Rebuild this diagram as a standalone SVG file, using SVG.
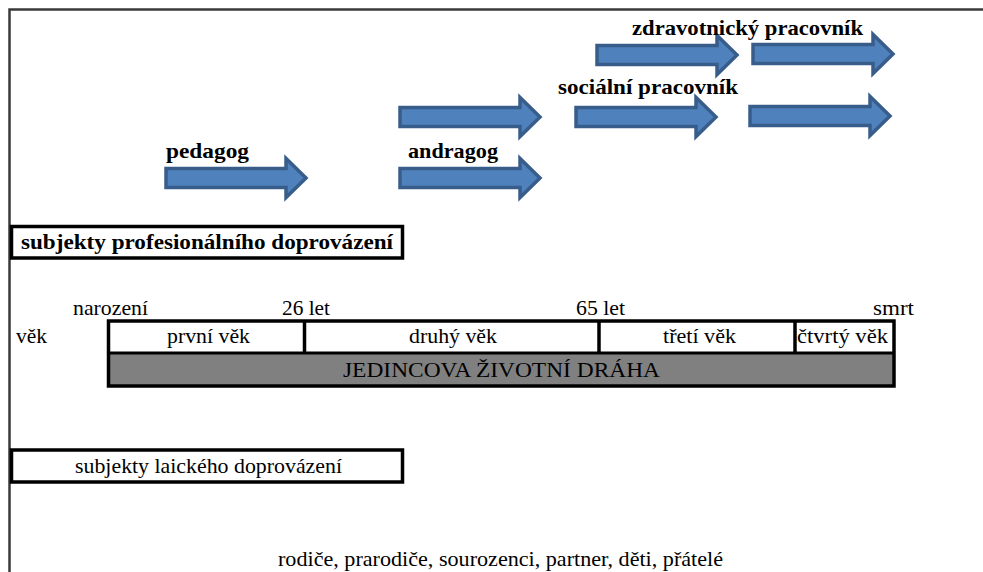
<svg xmlns="http://www.w3.org/2000/svg" xmlns:xlink="http://www.w3.org/1999/xlink" width="983" height="572" viewBox="0 0 983 572">
<style>
.b{font-weight:bold}
.box{fill:#fff;stroke:#000;stroke-width:3.5}
.arr{fill:#4F81BD;stroke:#385D8A;stroke-width:3.5;stroke-linejoin:miter}
</style>
<defs>
<path id="arr" class="arr" d="M0,-9.5 H120 V-19.5 L140,0 L120,19.5 V9.5 H0 Z"/>
</defs>
<rect width="983" height="572" fill="#fff"/>
<path d="M9.5,572 V9.5 H983" fill="none" stroke="#3a3a3a" stroke-width="2.5"/>

<g id="connectors">
<use xlink:href="#arr" x="166" y="178"/>
<use xlink:href="#arr" x="400" y="117"/>
<use xlink:href="#arr" x="400" y="178"/>
<use xlink:href="#arr" x="597" y="55"/>
<use xlink:href="#arr" x="753" y="54"/>
<use xlink:href="#arr" x="576" y="117"/>
<use xlink:href="#arr" x="750" y="116"/>
</g>

<g font-family="Liberation Serif, Times New Roman, Times, serif" font-size="22" fill="#000">
<g id="labels-prof">
<text class="b" x="632" y="35" textLength="231" lengthAdjust="spacingAndGlyphs">zdravotnický pracovník</text>
<text class="b" x="558" y="94" textLength="180" lengthAdjust="spacingAndGlyphs">sociální pracovník</text>
<text class="b" x="166" y="158" textLength="83" lengthAdjust="spacingAndGlyphs">pedagog</text>
<text class="b" x="408" y="158" textLength="90" lengthAdjust="spacingAndGlyphs">andragog</text>
</g>

<g id="node-prof">
<rect class="box" x="11.5" y="226.5" width="391" height="31.5"/>
<text class="b" x="21" y="249" textLength="372" lengthAdjust="spacingAndGlyphs">subjekty profesionálního doprovázení</text>
</g>

<g id="timeline-marks">
<text x="73" y="315" textLength="75" lengthAdjust="spacingAndGlyphs">narození</text>
<text x="282" y="315" textLength="48" lengthAdjust="spacingAndGlyphs">26 let</text>
<text x="576" y="315" textLength="49" lengthAdjust="spacingAndGlyphs">65 let</text>
<text x="873" y="315" textLength="41" lengthAdjust="spacingAndGlyphs">smrt</text>
<text x="16" y="343" textLength="31" lengthAdjust="spacingAndGlyphs">věk</text>
</g>

<g id="node-lifepath">
<rect x="108.5" y="353" width="785.5" height="33" fill="#808080"/>
<rect x="108.5" y="321" width="785.5" height="65" fill="none" stroke="#000" stroke-width="3.5"/>
<line x1="108.5" y1="353" x2="894" y2="353" stroke="#000" stroke-width="3"/>
<line x1="304.5" y1="321" x2="304.5" y2="354" stroke="#000" stroke-width="3.5"/>
<line x1="599" y1="321" x2="599" y2="354" stroke="#000" stroke-width="3.5"/>
<line x1="795" y1="321" x2="795" y2="354" stroke="#000" stroke-width="3.5"/>
<text x="167" y="343" textLength="83" lengthAdjust="spacingAndGlyphs">první věk</text>
<text x="409" y="343" textLength="88" lengthAdjust="spacingAndGlyphs">druhý věk</text>
<text x="663" y="343" textLength="73" lengthAdjust="spacingAndGlyphs">třetí věk</text>
<text x="797" y="343" textLength="91" lengthAdjust="spacingAndGlyphs">čtvrtý věk</text>
<text x="343" y="377" textLength="317" lengthAdjust="spacingAndGlyphs">JEDINCOVA ŽIVOTNÍ DRÁHA</text>
</g>

<g id="node-lay">
<rect class="box" x="11.5" y="450" width="391" height="32"/>
<text x="75" y="473" textLength="267" lengthAdjust="spacingAndGlyphs">subjekty laického doprovázení</text>
</g>

<g id="label-lay">
<text x="278" y="566" textLength="445" lengthAdjust="spacingAndGlyphs">rodiče, prarodiče, sourozenci, partner, děti, přátelé</text>
</g>
</g>
</svg>
